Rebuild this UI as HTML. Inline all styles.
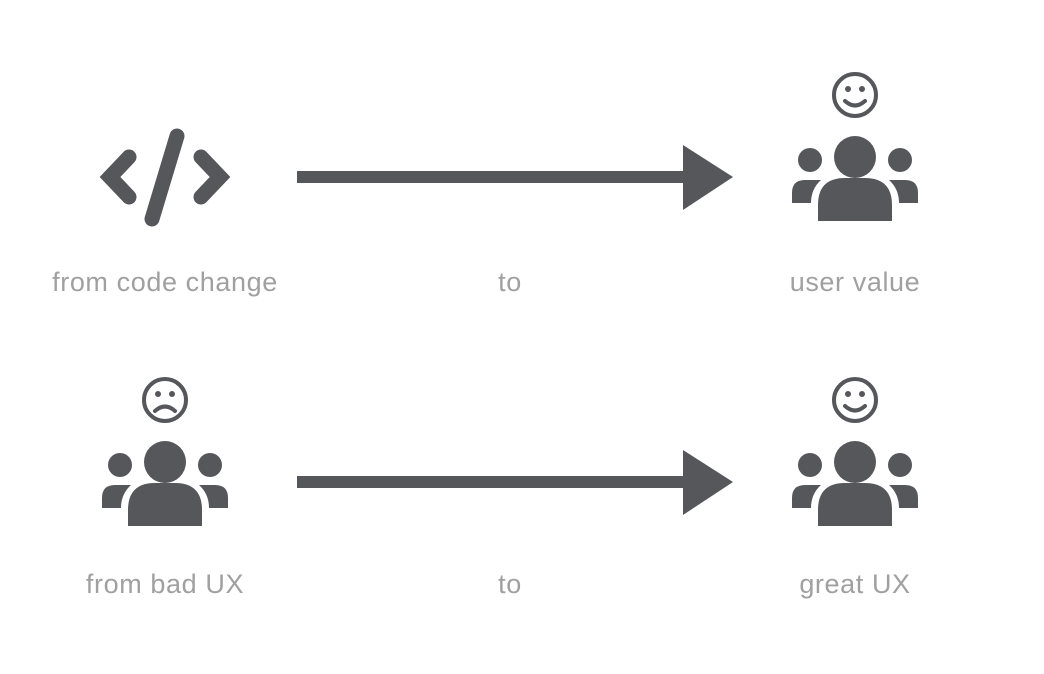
<!DOCTYPE html>
<html><head><style>
html,body{margin:0;padding:0;background:#fff;}
svg{display:block}
text{font-family:"Liberation Sans",sans-serif;font-size:27px;letter-spacing:0.6px;fill:#a0a0a0;text-anchor:middle}
</style></head><body>
<svg width="1044" height="674" viewBox="0 0 1044 674">
<defs>
<g id="users" fill="#55575b">
  <circle cx="0" cy="0" r="21"/>
  <path d="M-37,64 L-37,48 Q-37,21 -10,21 L10,21 Q37,21 37,48 L37,64 Z"/>
  <circle cx="-45" cy="3" r="12"/>
  <circle cx="45" cy="3" r="12"/>
  <path d="M-63,46 L-63,36 Q-63,23 -50,23 L-34,23 Q-44,32 -44,46 Z"/>
  <path d="M63,46 L63,36 Q63,23 50,23 L34,23 Q44,32 44,46 Z"/>
</g>
<g id="arrow" fill="#55575b">
  <rect x="297" y="-6" width="392" height="12"/>
  <path d="M683,-32 L733,0 L683,33 Z"/>
</g>
</defs>

<g fill="none" stroke="#55575b" stroke-width="15" stroke-linejoin="miter" stroke-linecap="round">
  <polyline points="129,157 110,177 129,197"/>
  <polyline points="201,157 220,177 201,197"/>
  <line x1="177" y1="136" x2="152" y2="219"/>
</g>

<use href="#arrow" transform="translate(0,177)"/>
<use href="#arrow" transform="translate(0,482)"/>

<g fill="none" stroke="#55575b" stroke-width="4">
  <circle cx="855" cy="95" r="21"/>
  <path d="M845,101 Q855,110 865,101" stroke-linecap="round"/>
  <circle cx="855" cy="400" r="21"/>
  <path d="M845,406 Q855,415 865,406" stroke-linecap="round"/>
  <circle cx="165" cy="400" r="21"/>
  <path d="M155,411 Q165,402 175,411" stroke-linecap="round"/>
</g>
<g fill="#55575b">
  <circle cx="848" cy="89" r="3"/><circle cx="862" cy="89" r="3"/>
  <circle cx="848" cy="394" r="3"/><circle cx="862" cy="394" r="3"/>
  <circle cx="158" cy="394" r="3"/><circle cx="172" cy="394" r="3"/>
</g>

<use href="#users" transform="translate(855,157)"/>
<use href="#users" transform="translate(855,462)"/>
<use href="#users" transform="translate(165,462)"/>

<text x="165" y="291">from code change</text>
<text x="510" y="291">to</text>
<text x="855" y="291">user value</text>
<text x="165" y="593">from bad UX</text>
<text x="510" y="593">to</text>
<text x="855" y="593">great UX</text>
</svg>
</body></html>
